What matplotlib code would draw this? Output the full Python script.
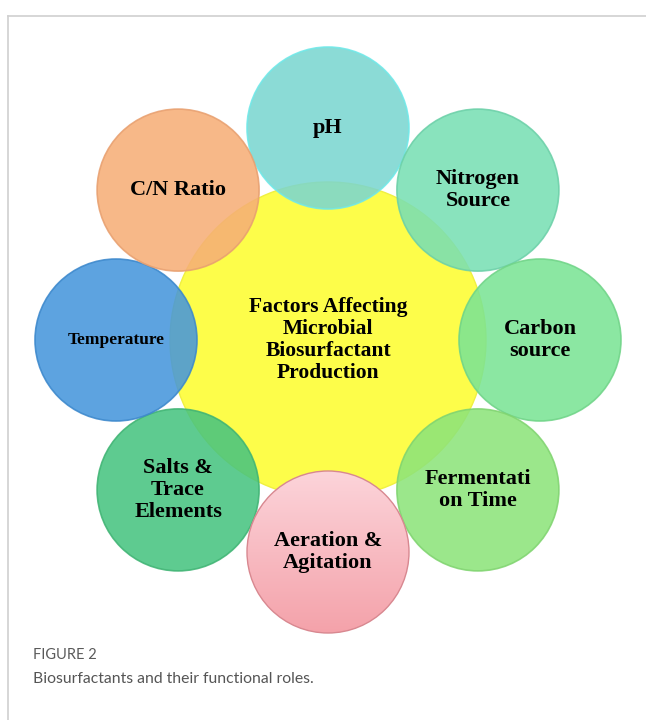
import numpy as np
import matplotlib.pyplot as plt
from matplotlib.patches import Circle
from matplotlib.colors import LinearSegmentedColormap

# factors around the hub, clockwise from the top
labels = ['pH', 'Nitrogen\nSource', 'Carbon\nsource', 'Fermentati\non Time',
          'Aeration &\nAgitation', 'Salts &\nTrace\nElements', 'Temperature', 'C/N Ratio']
colors = ['#7ad6d0', '#78dfb4', '#7ae494', '#8ce47a',
          '#f9bcc4', '#46c480', '#4596dc', '#f6ae76']
edges = ['#70e8e8', '#6cd0a8', '#70d488', '#80d470',
         '#d88890', '#40b474', '#3c88cc', '#e8a070']
sizes = [16, 16, 16, 16, 16, 16, 12.5, 16]
hub_text = 'Factors Affecting\nMicrobial\nBiosurfactant\nProduction'

W, H = 646, 720
fig = plt.figure(figsize=(W / 100, H / 100), dpi=100)
ax = fig.add_axes([0, 0, 1, 1])

# frame (top and left lines)
ax.plot([8, W], [16, 16], color='#d0d0d0', lw=1.2)
ax.plot([8, 8], [16, H], color='#d0d0d0', lw=1.2)

cx, cy = 328, 340
ax.add_patch(Circle((cx, cy), 158, facecolor='#fdfd4a', edgecolor='#f0f040', lw=1, zorder=1))
ax.text(cx, cy, hub_text, ha='center', va='center', fontsize=15.5, fontweight='bold',
        family='Liberation Serif', linespacing=1.12, zorder=5)

R, r = 212, 81
for i, (lab, c, e, s) in enumerate(zip(labels, colors, edges, sizes)):
    a = np.deg2rad(90 - 45 * i)
    x, y = cx + R * np.cos(a), cy - R * np.sin(a)
    if i == 4:
        # pink circle with vertical gradient, opaque
        circ = Circle((x, y), r, facecolor='none', edgecolor=e, lw=1, zorder=4)
        ax.add_patch(circ)
        grad = np.linspace(0, 1, 256)[:, None]
        cmap = LinearSegmentedColormap.from_list('pk', ['#fcd4da', '#f4a2aa'])
        im = ax.imshow(grad, extent=(x - r, x + r, y + r, y - r), cmap=cmap,
                       aspect='auto', zorder=3.5)
        im.set_clip_path(circ)
    else:
        ax.add_patch(Circle((x, y), r, facecolor=c, edgecolor=e, lw=1.2,
                            alpha=0.87, zorder=2))
    ax.text(x, y, lab, ha='center', va='center', fontsize=s, fontweight='bold',
            family='Liberation Serif', linespacing=1.12, zorder=6)

ax.text(33, 655, 'FIGURE 2', ha='left', va='center', fontsize=10.5,
        family='Lato', color='#5a5a5a')
ax.text(33, 679, 'Biosurfactants and their functional roles.', ha='left', va='center',
        fontsize=11.3, family='Lato', color='#555555')

ax.set_xlim(0, W)
ax.set_ylim(H, 0)
ax.set_aspect('equal')
ax.axis('off')
fig.savefig('out.png', dpi=100)
